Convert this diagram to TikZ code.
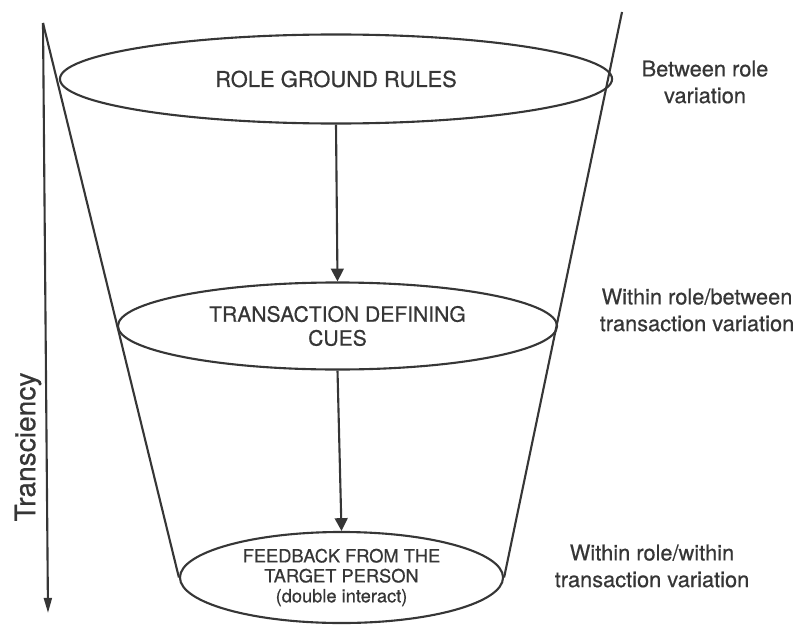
\documentclass[tikz,border=0pt]{standalone}
\usepackage{fontspec}
\setmainfont{TeX Gyre Heros}[FakeBold=0.5]
\usepackage{xcolor}
\usetikzlibrary{arrows.meta,shapes.geometric}
\definecolor{inkgray}{HTML}{363636}

\begin{document}
\begin{tikzpicture}[x=0.025cm,y=-0.025cm,
  level/.style={draw=inkgray, line width=1.5pt, ellipse, inner sep=0pt, align=center, text=inkgray},
  side/.style={align=center, text=inkgray, font=\fontsize{15.5}{19}\selectfont},
  flow/.style={draw=inkgray, line width=1.5pt, -{Triangle[length=3.2mm,width=3.2mm]}}]
\useasboundingbox (0,0) rectangle (794,624);

\node[level, minimum width=13.8cm, minimum height=2.225cm, font=\fontsize{15.6}{18}\selectfont] (rules) at (336,79) {ROLE GROUND RULES};
\node[level, minimum width=10.975cm, minimum height=2.175cm, font=\fontsize{15}{17}\selectfont] (cues) at (337.5,326) {TRANSACTION DEFINING\\CUES};
\node[level, minimum width=8.075cm, minimum height=2.275cm, font=\fontsize{13}{14.2}\selectfont] (feedback) at (341.5,577.5) {FEEDBACK FROM THE\\TARGET PERSON\\(double interact)};

\coordinate (lefttop) at (43,23);
\coordinate (righttop) at (622,12);
\coordinate (arrowend) at (48,613);

% draw the funnel walls
\draw[inkgray, line width=1.5pt] (lefttop) -- (feedback.west);
\draw[inkgray, line width=1.5pt] (righttop) -- (feedback.east);

% draw the arrows
\draw[flow] (rules.south) -- (cues.north);
\draw[flow] (cues.south) -- (feedback.north);
\draw[inkgray, line width=1.5pt, -{Triangle[length=3.8mm,width=2mm]}] (lefttop) -- (arrowend);

\node[rotate=90, text=inkgray, font=\fontsize{20}{24}\selectfont] (transciency) at (28,447) {Transciency};

\node[side] (between) at (705,82) {Between role\\variation};
\node[side] (withinbetween) at (697,310) {Within role/between\\transaction variation};
\node[side] (withinwithin) at (652,566) {Within role/within\\transaction variation};

\end{tikzpicture}
\end{document}
